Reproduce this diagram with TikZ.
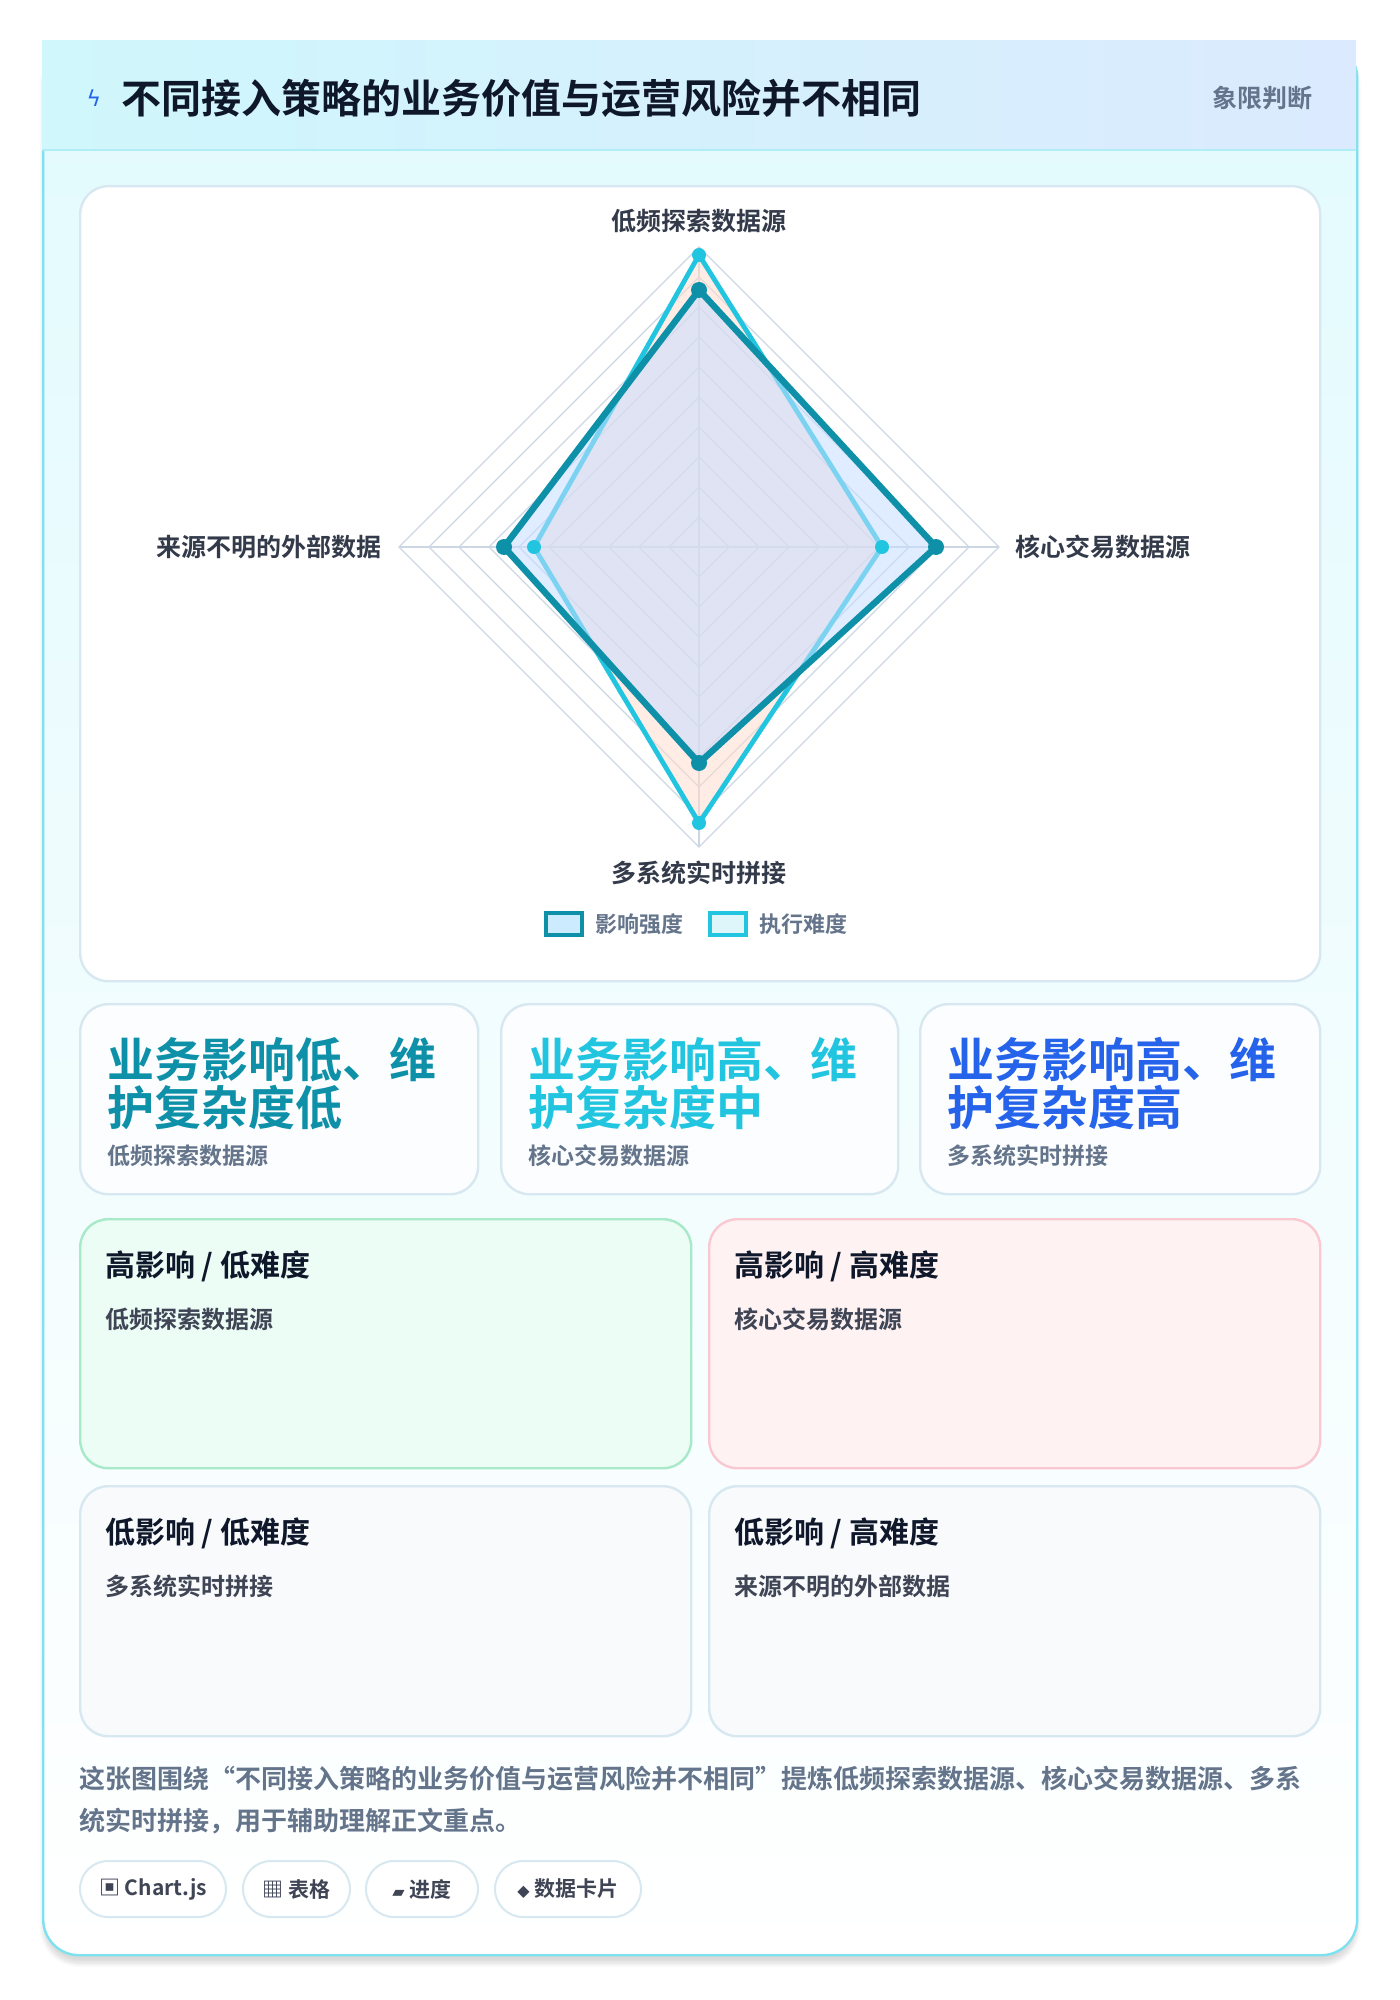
\documentclass[tikz,border=0pt]{standalone}
\usepackage{fontspec}
\setmainfont{Noto Sans CJK SC}[BoldFont={Noto Sans CJK SC Bold}]
\newfontfamily\symb{DejaVu Sans}
\usetikzlibrary{positioning,calc,shadows.blur}
\definecolor{cardline}{RGB}{125,225,240}
\definecolor{headl}{RGB}{207,247,252}
\definecolor{headr}{RGB}{219,234,254}
\definecolor{ink}{RGB}{15,23,42}
\definecolor{muted}{RGB}{100,116,139}
\definecolor{impact}{RGB}{14,144,168}
\definecolor{effort}{RGB}{34,197,224}
\definecolor{bluec}{RGB}{37,99,235}
\definecolor{panelline}{RGB}{215,232,240}
\definecolor{greenbg}{RGB}{236,253,245}
\definecolor{greenln}{RGB}{167,233,200}
\definecolor{redbg}{RGB}{254,242,243}
\definecolor{redln}{RGB}{250,200,208}
\definecolor{graybg}{RGB}{248,250,252}
\definecolor{grayln}{RGB}{215,232,240}
\definecolor{grid}{RGB}{205,215,228}

\begin{document}
\begin{tikzpicture}[x=0.5pt,y=-0.5pt,
    every node/.style={font=\bfseries},
    panel/.style={draw=panelline, line width=1.2pt, rounded corners=14pt, fill=white},
    quad/.style={draw=#1ln, line width=1.2pt, rounded corners=14pt, fill=#1bg},
    quadtitle/.style={anchor=west, text=ink, font=\fontsize{15}{18}\selectfont\bfseries},
    quadsub/.style={anchor=west, text=ink!80, font=\fontsize{12}{15}\selectfont\bfseries},
    bigtext/.style={anchor=north west, align=left, font=\fontsize{23.5}{24}\selectfont\bfseries},
    axislabel/.style={text=ink!85, font=\fontsize{12.5}{15}\selectfont\bfseries},
    chip/.style={draw=panelline, line width=1pt, rounded corners=14pt, fill=white, text=ink!80,
      minimum height=28pt, font=\fontsize{10.5}{12}\selectfont\bfseries},
]
\useasboundingbox (0,0) rectangle (1400,2000);

% Card
\node[draw=cardline, line width=1.2pt, rounded corners=18pt, top color=headl!60, bottom color=white,
  minimum width=657pt, minimum height=956.5pt, anchor=north west, blur shadow={shadow blur steps=8, shadow xshift=0pt, shadow yshift=-4pt, shadow opacity=15}] (card) at (42,41) {};
\fill[left color=headl, right color=headr] (42,41) rectangle (1356,150);
\draw[cardline!60, line width=0.8pt] (42,150) -- (1356,150);
\node[text=bluec, font=\symb\fontsize{11}{14}\selectfont] (bolt) at (94,98) {ϟ};
\node[anchor=west, text=ink, font=\fontsize{20}{22}\selectfont\bfseries] (title) at (114,98) {不同接入策略的业务价值与运营风险并不相同};
\node[anchor=east, text=muted, font=\fontsize{12.5}{14}\selectfont\bfseries] (tag) at (1320,98) {象限判断};

% Radar panel
\node[panel, minimum width=620pt, minimum height=397.5pt, anchor=north west] (radar) at (79,185) {};
\coordinate (c) at (699,547);
\foreach \r in {30,60,...,300}
  \draw[grid, line width=0.6pt] ($(c)+(0,-\r)$) -- ($(c)+(\r,0)$) -- ($(c)+(0,\r)$) -- ($(c)+(-\r,0)$) -- cycle;
\draw[grid, line width=0.6pt] ($(c)+(0,-300)$) -- ($(c)+(0,300)$) ($(c)+(-300,0)$) -- ($(c)+(300,0)$);
% series
\draw[effort, line width=2.4pt, fill=orange!60!red!20, fill opacity=0.5]
  ($(c)+(0,-292)$) -- ($(c)+(183,0)$) -- ($(c)+(0,276)$) -- ($(c)+(-165,0)$) -- cycle;
\draw[impact, line width=3.2pt, fill=blue!60!cyan!22, fill opacity=0.55]
  ($(c)+(0,-257)$) -- ($(c)+(237,0)$) -- ($(c)+(0,216)$) -- ($(c)+(-195,0)$) -- cycle;
\foreach \px/\py in {0/-292,183/0,0/276,-165/0}
  \fill[effort] ($(c)+(\px,\py)$) circle (7);
\foreach \px/\py in {0/-257,237/0,0/216,-195/0}
  \fill[impact] ($(c)+(\px,\py)$) circle (8);
\node[axislabel] (ax1) at (699,221) {低频探索数据源};
\node[axislabel, anchor=west] (ax2) at (1008,547) {核心交易数据源};
\node[axislabel] (ax3) at (699,873) {多系统实时拼接};
\node[axislabel, anchor=east] (ax4) at (389,547) {来源不明的外部数据};
% legend
\draw[impact, line width=2.4pt, fill=blue!40!cyan!20] (546,913) rectangle (582,935);
\node[anchor=west, text=muted, font=\fontsize{11}{13}\selectfont\bfseries] (leg1) at (588,924) {影响强度};
\draw[effort, line width=2.4pt, fill=effort!15] (710,913) rectangle (746,935);
\node[anchor=west, text=muted, font=\fontsize{11}{13}\selectfont\bfseries] (leg2) at (752,924) {执行难度};

% Value cards
\node[panel, fill=white!60!graybg, minimum width=199pt, minimum height=95pt, anchor=north west] (v1) at (79,1003) {};
\node[panel, fill=white!60!graybg, minimum width=198.5pt, minimum height=95pt, anchor=north west] (v2) at (500,1003) {};
\node[panel, fill=white!60!graybg, minimum width=200pt, minimum height=95pt, anchor=north west] (v3) at (919,1003) {};
\node[bigtext, text=impact] (b1) at (100,1030) {业务影响低、维\\护复杂度低};
\node[bigtext, text=effort] (b2) at (521,1030) {业务影响高、维\\护复杂度中};
\node[bigtext, text=bluec] (b3) at (940,1030) {业务影响高、维\\护复杂度高};
\node[quadsub, text=muted, font=\fontsize{11.5}{13}\selectfont\bfseries] (s1) at (100,1156) {低频探索数据源};
\node[quadsub, text=muted, font=\fontsize{11.5}{13}\selectfont\bfseries] (s2) at (521,1156) {核心交易数据源};
\node[quadsub, text=muted, font=\fontsize{11.5}{13}\selectfont\bfseries] (s3) at (940,1156) {多系统实时拼接};

% Quadrants
\node[quad=green, minimum width=305.5pt, minimum height=124.5pt, anchor=north west] (q1) at (79,1218) {};
\node[quad=red, minimum width=305.5pt, minimum height=124.5pt, anchor=north west] (q2) at (708,1218) {};
\node[quad=gray, minimum width=305.5pt, minimum height=125pt, anchor=north west] (q3) at (79,1485) {};
\node[quad=gray, minimum width=305.5pt, minimum height=125pt, anchor=north west] (q4) at (708,1485) {};
\node[quadtitle] (t1) at (98,1266) {高影响 / 低难度};
\node[quadsub] (u1) at (98,1319) {低频探索数据源};
\node[quadtitle] (t2) at (727,1266) {高影响 / 高难度};
\node[quadsub] (u2) at (727,1319) {核心交易数据源};
\node[quadtitle] (t3) at (98,1533) {低影响 / 低难度};
\node[quadsub] (u3) at (98,1586) {多系统实时拼接};
\node[quadtitle] (t4) at (727,1533) {低影响 / 高难度};
\node[quadsub] (u4) at (727,1586) {来源不明的外部数据};

% Footer
\node[anchor=north west, text=muted, align=left, font=\fontsize{13}{21}\selectfont\bfseries, inner sep=0pt] (foot) at (79,1766)
  {这张图围绕“不同接入策略的业务价值与运营风险并不相同”提炼低频探索数据源、核心交易数据源、多系\\统实时拼接，用于辅助理解正文重点。};
\node[chip, minimum width=73pt, anchor=west] (ch1) at (79,1889) {▣ Chart.js};
\node[chip, minimum width=53.5pt, anchor=west] (ch2) at (242,1889) {▦ 表格};
\node[chip, minimum width=56pt, anchor=west] (ch3) at (365,1889) {{\symb\fontsize{8}{10}\selectfont ▰} 进度};
\node[chip, minimum width=73pt, anchor=west] (ch4) at (494,1889) {{\symb\fontsize{8}{10}\selectfont ◆} 数据卡片};
\end{tikzpicture}
\end{document}
